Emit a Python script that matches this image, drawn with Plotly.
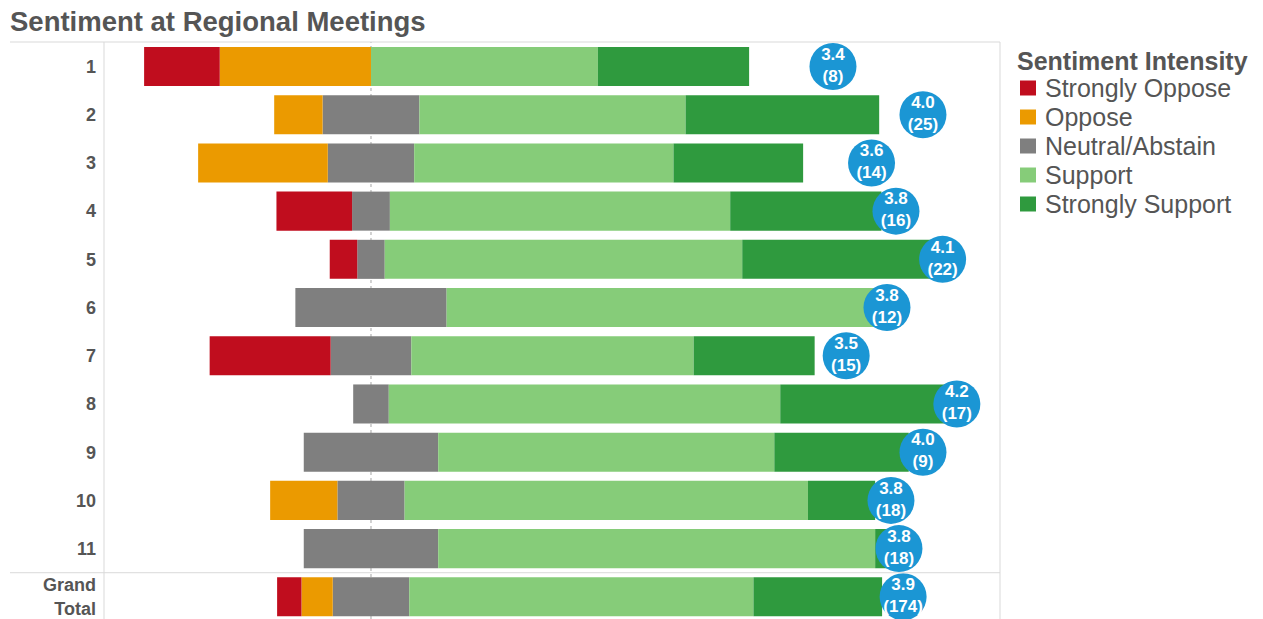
import plotly.graph_objects as go

# response counts per meeting
rows = ["1", "2", "3", "4", "5", "6", "7", "8", "9", "10", "11", "Grand<br>Total"]
strongly_oppose = [1, 0, 0, 2, 1, 0, 3, 0, 0, 0, 0, 7]
oppose = [2, 2, 3, 0, 0, 0, 0, 0, 0, 2, 0, 9]
neutral = [0, 4, 2, 1, 1, 3, 2, 1, 2, 2, 4, 22]
support = [3, 11, 6, 9, 13, 9, 7, 11, 5, 12, 13, 99]
strongly_support = [2, 8, 3, 4, 7, 0, 3, 5, 2, 2, 1, 37]

legend_names = ["Strongly Oppose", "Oppose", "Neutral/Abstain", "Support", "Strongly Support"]

totals = [a + b + c + d + e for a, b, c, d, e in
          zip(strongly_oppose, oppose, neutral, support, strongly_support)]
means = [(1 * a + 2 * b + 3 * c + 4 * d + 5 * e) / t for a, b, c, d, e, t in
         zip(strongly_oppose, oppose, neutral, support, strongly_support, totals)]


def pct(vals):
    return [100.0 * v / t for v, t in zip(vals, totals)]


c_so = "#c00d1e"
c_o = "#eb9a00"
c_n = "#7f7f7f"
c_s = "#86cc79"
c_ss = "#2f9a3e"
colors = [c_so, c_o, c_n, c_s, c_ss]
grey_txt = "#555555"

W, H = 1263, 619
L, R, T, B = 104, 1000, 42, 619   # plot area in pixels


def px(x):
    return (x - L) / (R - L)


def py(y):
    return 1 - (y - T) / (B - T)


fig = go.Figure()

# neutral is split evenly across the centre line
fig.add_trace(go.Bar(y=rows, x=[-v / 2 for v in pct(neutral)], orientation="h",
                     marker=dict(color=c_n, line=dict(width=0)), name="Neutral/Abstain"))
fig.add_trace(go.Bar(y=rows, x=[v / 2 for v in pct(neutral)], orientation="h",
                     marker=dict(color=c_n, line=dict(width=0)), name="Neutral/Abstain"))
fig.add_trace(go.Bar(y=rows, x=[-v for v in pct(oppose)], orientation="h",
                     marker=dict(color=c_o, line=dict(width=0)), name="Oppose"))
fig.add_trace(go.Bar(y=rows, x=[-v for v in pct(strongly_oppose)], orientation="h",
                     marker=dict(color=c_so, line=dict(width=0)), name="Strongly Oppose"))
fig.add_trace(go.Bar(y=rows, x=pct(support), orientation="h",
                     marker=dict(color=c_s, line=dict(width=0)), name="Support"))
fig.add_trace(go.Bar(y=rows, x=pct(strongly_support), orientation="h",
                     marker=dict(color=c_ss, line=dict(width=0)), name="Strongly Support"))

# average score badges on their own axis
fig.add_trace(go.Scatter(
    x=means, y=rows, xaxis="x2", mode="markers+text",
    marker=dict(size=47, color="#1b96d4", line=dict(width=0)),
    text=[f"{m:.1f}<br>({t})" for m, t in zip(means, totals)],
    textposition="middle center",
    textfont=dict(color="white", size=17, family="Liberation Sans", weight="bold"),
    cliponaxis=False))

line_c = "#d9d9d9"
shapes = [
    dict(type="line", xref="x", yref="paper", x0=0, x1=0, y0=0, y1=1,
         line=dict(color="#a5a5a5", width=1, dash="dot"), layer="below"),
    dict(type="line", xref="paper", yref="paper", x0=px(10), x1=1, y0=1, y1=1,
         line=dict(color=line_c, width=1)),
    dict(type="line", xref="paper", yref="y", x0=px(10), x1=1, y0=10.5, y1=10.5,
         line=dict(color=line_c, width=1)),
    dict(type="line", xref="paper", yref="paper", x0=0, x1=0, y0=0, y1=1,
         line=dict(color=line_c, width=1)),
    dict(type="line", xref="paper", yref="paper", x0=1, x1=1, y0=0, y1=1,
         line=dict(color=line_c, width=1)),
]

# legend in the Tableau style
annotations = [dict(text="<b>Sentiment Intensity</b>", xref="paper", yref="paper",
                    x=px(1015), y=py(61), xanchor="left", yanchor="middle",
                    showarrow=False, font=dict(size=25, color=grey_txt))]
for i, (name, col) in enumerate(zip(legend_names, colors)):
    yc = 88 + i * 29
    shapes.append(dict(type="rect", xref="paper", yref="paper",
                       x0=px(1020), x1=px(1036), y0=py(yc + 7.5), y1=py(yc - 7.5),
                       fillcolor=col, line=dict(width=0)))
    annotations.append(dict(text=name, xref="paper", yref="paper",
                            x=px(1043), y=py(yc), xanchor="left", yanchor="middle",
                            showarrow=False, font=dict(size=25, color=grey_txt)))

fig.update_layout(
    width=W, height=H,
    margin=dict(l=L, r=W - R, t=T, b=H - B),
    paper_bgcolor="white", plot_bgcolor="white",
    barmode="relative", bargap=0.19,
    showlegend=False,
    font=dict(family="Liberation Sans", color=grey_txt),
    title=dict(text="Sentiment at Regional Meetings", xref="container", yref="container",
               x=10 / W, xanchor="left", y=1 - 21 / H, yanchor="middle",
               font=dict(size=27.5, weight="bold", color=grey_txt)),
    xaxis=dict(range=[-44.13, 103.97], visible=False, fixedrange=True),
    xaxis2=dict(range=[-1.6875, 4.535], overlaying="x", visible=False),
    yaxis=dict(categoryorder="array", categoryarray=rows, range=[11.46, -0.508],
               showgrid=False, zeroline=False, ticks="", ticklabelstandoff=7,
               tickfont=dict(size=18, weight="bold", color=grey_txt)),
    shapes=shapes,
    annotations=annotations,
)

fig.write_html("out.html", config={"displayModeBar": False},
               post_script="document.body.style.margin='0px';")
